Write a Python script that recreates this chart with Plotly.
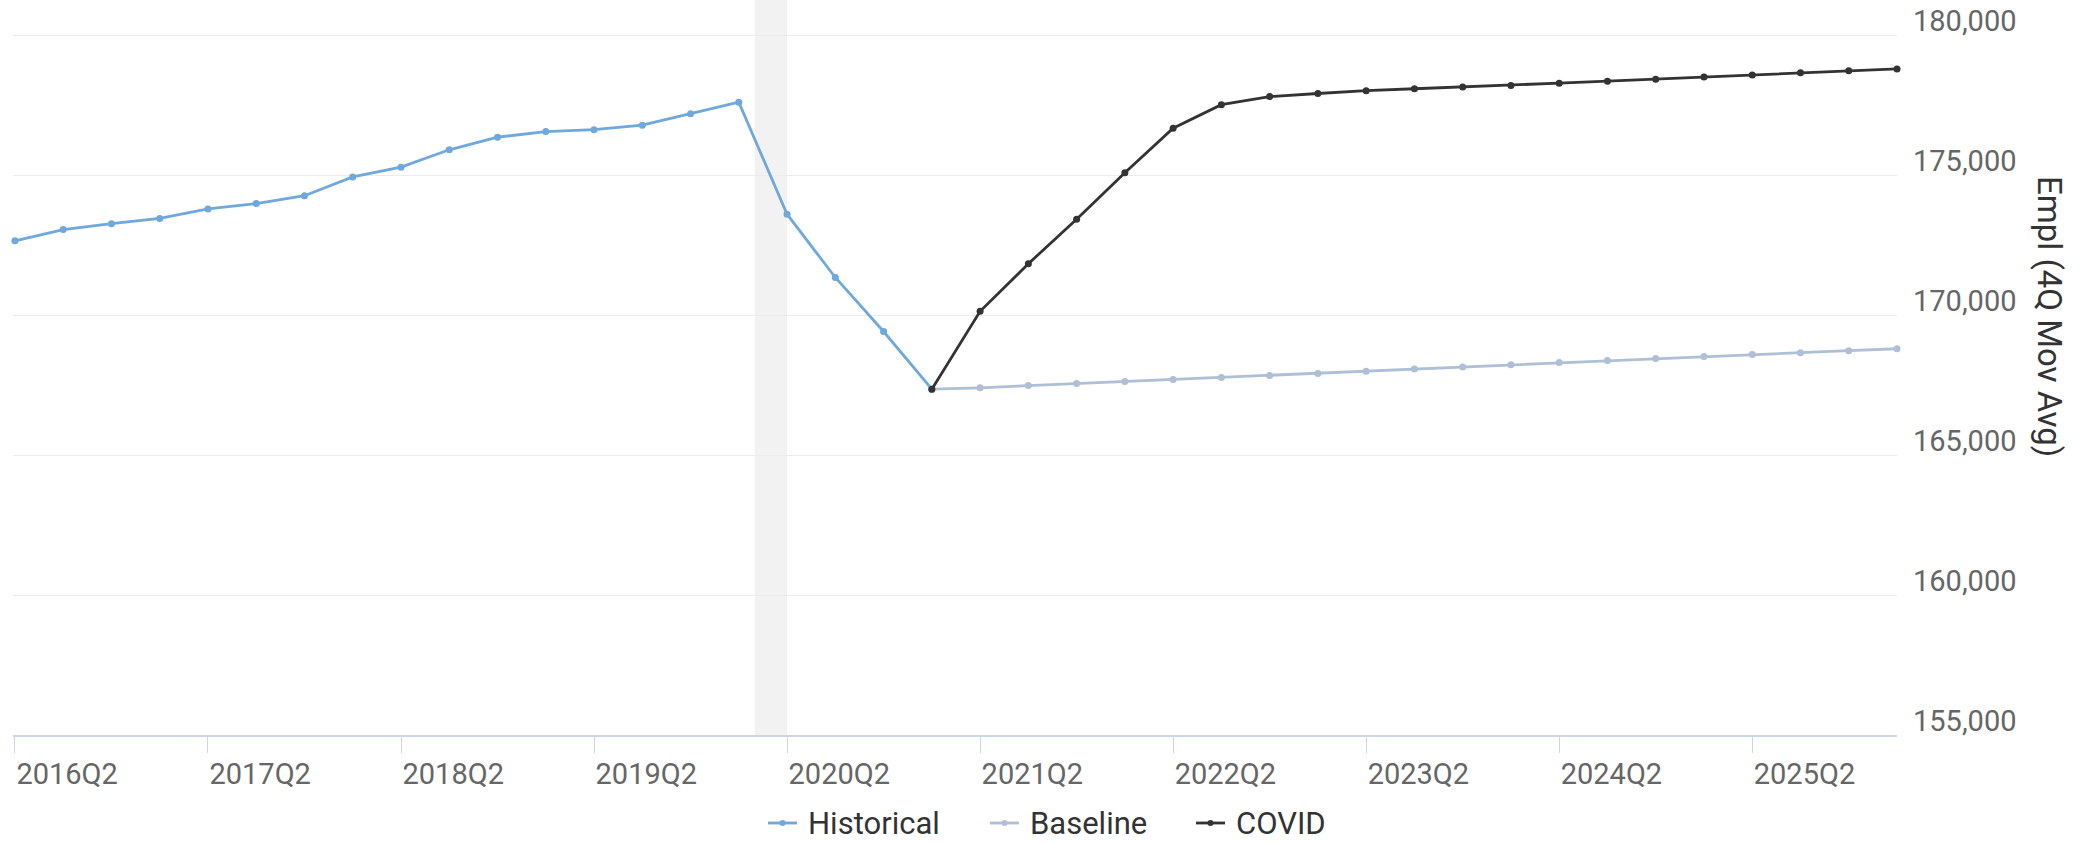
import plotly.graph_objects as go

# Quarterly categories on the x axis
quarters = [
    "2016Q2", "2016Q3", "2016Q4", "2017Q1", "2017Q2", "2017Q3", "2017Q4", "2018Q1",
    "2018Q2", "2018Q3", "2018Q4", "2019Q1", "2019Q2", "2019Q3", "2019Q4", "2020Q1",
    "2020Q2", "2020Q3", "2020Q4", "2021Q1", "2021Q2", "2021Q3", "2021Q4", "2022Q1",
    "2022Q2", "2022Q3", "2022Q4", "2023Q1", "2023Q2", "2023Q3", "2023Q4", "2024Q1",
    "2024Q2", "2024Q3", "2024Q4", "2025Q1", "2025Q2", "2025Q3", "2025Q4", "2026Q1",
]

# Employment, 4-quarter moving average
historical = [
    172650, 173050, 173260, 173450, 173790, 173980, 174260, 174930,
    175280, 175900, 176350, 176550, 176620, 176780, 177190, 177600,
    173600, 171340, 169410, 167350,
]
baseline = [
    167350, 167400, 167480, 167555, 167625, 167695, 167770, 167835,
    167915, 167995, 168070, 168145, 168225, 168305, 168375, 168445,
    168515, 168585, 168655, 168725, 168795,
]
covid = [
    167350, 170130, 171830, 173420, 175080, 176670, 177510, 177800,
    177910, 178010, 178080, 178140, 178200, 178280, 178350, 178420,
    178500, 178570, 178650, 178720, 178790,
]

tick_labels = ["2016Q2", "2017Q2", "2018Q2", "2019Q2", "2020Q2",
               "2021Q2", "2022Q2", "2023Q2", "2024Q2", "2025Q2"]
y_ticks = [155000, 160000, 165000, 170000, 175000, 180000]

# Recession shading (Feb 2020 - Apr 2020) in category-index units
recession_start = 15.33
recession_end = 16.0

series_names = ["Historical", "Baseline", "COVID"]
series_colors = ["#6fa8dc", "#aebfd6", "#333333"]

# Figure geometry (px)
W, H = 2087, 843
M_L, M_R, M_T, M_B = 13, 190, 0, 108
plot_w = W - M_L - M_R
plot_h = H - M_T - M_B


def px_to_paper_x(px):
    return (px - M_L) / plot_w


def px_to_paper_y(py):
    return (H - M_B - py) / plot_h


hist_x = quarters[:len(historical)]
proj_x = quarters[len(historical) - 1:]

fig = go.Figure()
for name, xs, ys, color in [
    ("Historical", hist_x, historical, series_colors[0]),
    ("Baseline", proj_x, baseline, series_colors[1]),
    ("COVID", proj_x, covid, series_colors[2]),
]:
    fig.add_trace(go.Scatter(
        x=xs, y=ys, name=name, mode="lines+markers",
        line=dict(color=color, width=2.8), marker=dict(size=7, color=color),
        cliponaxis=False, showlegend=False,
    ))

fig.add_shape(
    type="rect", xref="x", yref="paper",
    x0=recession_start, x1=recession_end, y0=0, y1=1,
    fillcolor="#f2f2f2", line=dict(width=0), layer="below",
)

# Legend row below the chart: short line + dot symbol, then the label
legend_symbol_starts = [768, 990, 1196]
legend_y = px_to_paper_y(823)
for name, color, sx in zip(series_names, series_colors, legend_symbol_starts):
    fig.add_shape(
        type="line", xref="paper", yref="paper",
        x0=px_to_paper_x(sx), x1=px_to_paper_x(sx + 29), y0=legend_y, y1=legend_y,
        line=dict(color=color, width=2.8),
    )
    fig.add_shape(
        type="circle", xref="paper", yref="paper",
        xsizemode="pixel", ysizemode="pixel",
        xanchor=px_to_paper_x(sx + 14.5), yanchor=legend_y,
        x0=-3, x1=3, y0=-3, y1=3,
        fillcolor=color, line=dict(width=0),
    )
    fig.add_annotation(
        text=name, xref="paper", yref="paper",
        x=px_to_paper_x(sx + 38), y=legend_y, xanchor="left", yanchor="middle",
        showarrow=False, font=dict(family="Roboto", size=31, color="#333333"),
    )

fig.add_annotation(
    text="Empl (4Q Mov Avg)", xref="paper", yref="paper",
    x=px_to_paper_x(2050), y=px_to_paper_y(316),
    xanchor="center", yanchor="middle", textangle=90, showarrow=False,
    font=dict(family="Roboto", size=33, color="#333333"),
)

fig.update_layout(
    width=W, height=H,
    margin=dict(l=M_L, r=M_R, t=M_T, b=M_B),
    paper_bgcolor="white", plot_bgcolor="white",
    font=dict(family="Roboto", size=29, color="#666666"),
    showlegend=False,
    xaxis=dict(
        type="category", categoryorder="array", categoryarray=quarters,
        range=[-0.04, 39.0],
        tickmode="array", tickvals=tick_labels, ticktext=tick_labels,
        ticks="outside", ticklen=16, tickwidth=1, tickcolor="#ccd6eb",
        ticklabelposition="outside right", ticklabelstandoff=12,
        showline=True, linecolor="#ccd6eb", linewidth=2,
        showgrid=False, zeroline=False,
        tickfont=dict(family="Roboto", size=29, color="#666666"),
    ),
    yaxis=dict(
        side="right", range=[155000, 181250],
        tickmode="array", tickvals=y_ticks,
        tickformat=",d",
        ticklabelposition="outside", ticklabelshift=-14, ticklabelstandoff=15,
        showgrid=True, gridcolor="#ececec", gridwidth=1,
        zeroline=False, showline=False, ticks="",
        tickfont=dict(family="Roboto", size=29, color="#666666"),
    ),
)

fig.write_html("out.html")
